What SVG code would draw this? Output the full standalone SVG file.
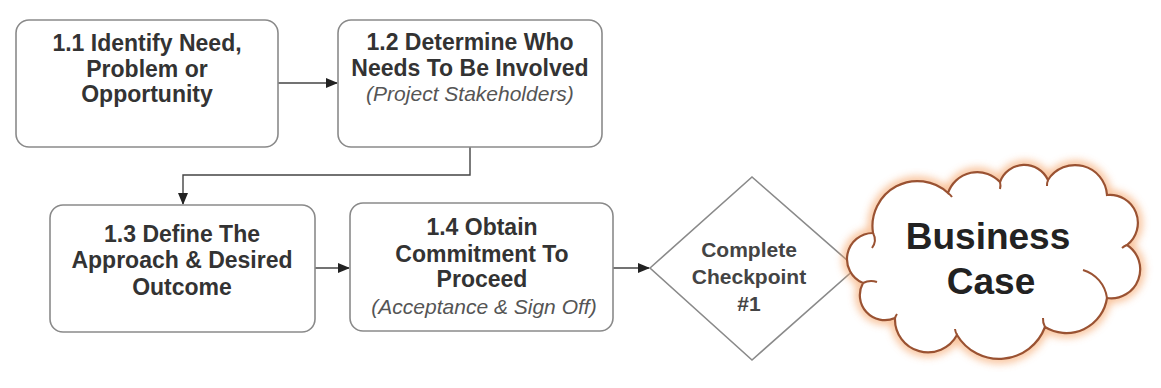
<svg xmlns="http://www.w3.org/2000/svg" width="1161" height="388" viewBox="0 0 1161 388">
<style>
.box{fill:#fff;stroke:#8a8a8a;stroke-width:1.6}
.t{font-family:"Liberation Sans",Arial,sans-serif;font-weight:bold;font-size:23px;fill:#333;text-anchor:middle}
.it{font-family:"Liberation Sans",Arial,sans-serif;font-style:italic;font-size:21px;fill:#555;text-anchor:middle}
.d{font-family:"Liberation Sans",Arial,sans-serif;font-weight:bold;font-size:21px;fill:#444;text-anchor:middle}
.bc{font-family:"Liberation Sans",Arial,sans-serif;font-weight:bold;font-size:37px;fill:#222;text-anchor:middle}
.c{fill:none;stroke:#444;stroke-width:1.4}
.curl{fill:none;stroke:#9a5232;stroke-width:2}
</style>
<defs>
<marker id="ah" markerWidth="12" markerHeight="10" refX="11" refY="5" orient="auto" markerUnits="userSpaceOnUse">
<path d="M0,0 L12,5 L0,10 Z" fill="#222"/>
</marker>
<filter id="glow" x="-20%" y="-20%" width="140%" height="140%">
<feGaussianBlur stdDeviation="4"/>
</filter>
<path id="cloudp" d="M863,283 A26,26 0 0 1 873,233 A45,45 0 0 1 948,193 A31,31 0 0 1 1000,182 A26,26 0 0 1 1048,180 A32,32 0 0 1 1107,195 A28,28 0 0 1 1127,245 A29,29 0 0 1 1107,298 A41,41 0 0 1 1045,327 A49,49 0 0 1 957,335 A33,33 0 0 1 895,318 A25,25 0 0 1 863,283 Z"/>
</defs>
<rect width="1161" height="388" fill="#fff"/>

<g id="connectors">
<line class="c" x1="278" y1="83" x2="337" y2="83" marker-end="url(#ah)"/>
<polyline class="c" points="470,147 470,175 183,175 183,204" marker-end="url(#ah)"/>
<line class="c" x1="315" y1="268" x2="349" y2="268" marker-end="url(#ah)"/>
<line class="c" x1="613" y1="268" x2="649" y2="268" marker-end="url(#ah)"/>
</g>

<g id="n11">
<rect class="box" x="16" y="20" width="262" height="127" rx="13"/>
<text class="t" x="147" y="51">1.1 Identify Need,</text>
<text class="t" x="147" y="77">Problem or</text>
<text class="t" x="147" y="102">Opportunity</text>
</g>

<g id="n12">
<rect class="box" x="338" y="20" width="264" height="127" rx="13"/>
<text class="t" x="470" y="50">1.2 Determine Who</text>
<text class="t" x="470" y="76">Needs To Be Involved</text>
<text class="it" x="470" y="101">(Project Stakeholders)</text>
</g>

<g id="n13">
<rect class="box" x="50" y="205" width="265" height="127" rx="13"/>
<text class="t" x="182" y="242">1.3 Define The</text>
<text class="t" x="182" y="268">Approach &amp; Desired</text>
<text class="t" x="182" y="295">Outcome</text>
</g>

<g id="n14">
<rect class="box" x="350" y="203" width="263" height="128" rx="13"/>
<text class="t" x="482" y="235">1.4 Obtain</text>
<text class="t" x="482" y="262">Commitment To</text>
<text class="t" x="482" y="287">Proceed</text>
<text class="it" x="484" y="314">(Acceptance &amp; Sign Off)</text>
</g>

<g id="checkpoint">
<polygon points="650,268 752,177 856,268 752,360" fill="#fff" stroke="#8a8a8a" stroke-width="1.6"/>
<text class="d" x="749" y="257">Complete</text>
<text class="d" x="749" y="284">Checkpoint</text>
<text class="d" x="749" y="311">#1</text>
</g>

<g id="business-case">
<use href="#cloudp" fill="none" stroke="#f5a062" stroke-width="8" filter="url(#glow)" opacity="0.75"/>
<use href="#cloudp" fill="#fff" stroke="#9a5232" stroke-width="2.2"/>
<path class="curl" d="M873,233 A14,14 0 0 1 872,248"/>
<path class="curl" d="M863,283 A18,18 0 0 1 877,282"/>
<path class="curl" d="M948,193 A14,14 0 0 1 952,197"/>
<path class="curl" d="M1000,182 A14,14 0 0 1 1000,189"/>
<path class="curl" d="M1048,180 A14,14 0 0 0 1047,186"/>
<path class="curl" d="M1127,245 A14,14 0 0 0 1122,248"/>
<path class="curl" d="M1083,270 A34,34 0 0 1 1107,298"/>
<path class="curl" d="M1045,327 A16,16 0 0 1 1043,318"/>
<path class="curl" d="M957,335 A16,16 0 0 1 955,329"/>
<path class="curl" d="M895,318 A16,16 0 0 1 897,314"/>
<text class="bc" x="988" y="249">Business</text>
<text class="bc" x="991" y="294">Case</text>
</g>
</svg>
